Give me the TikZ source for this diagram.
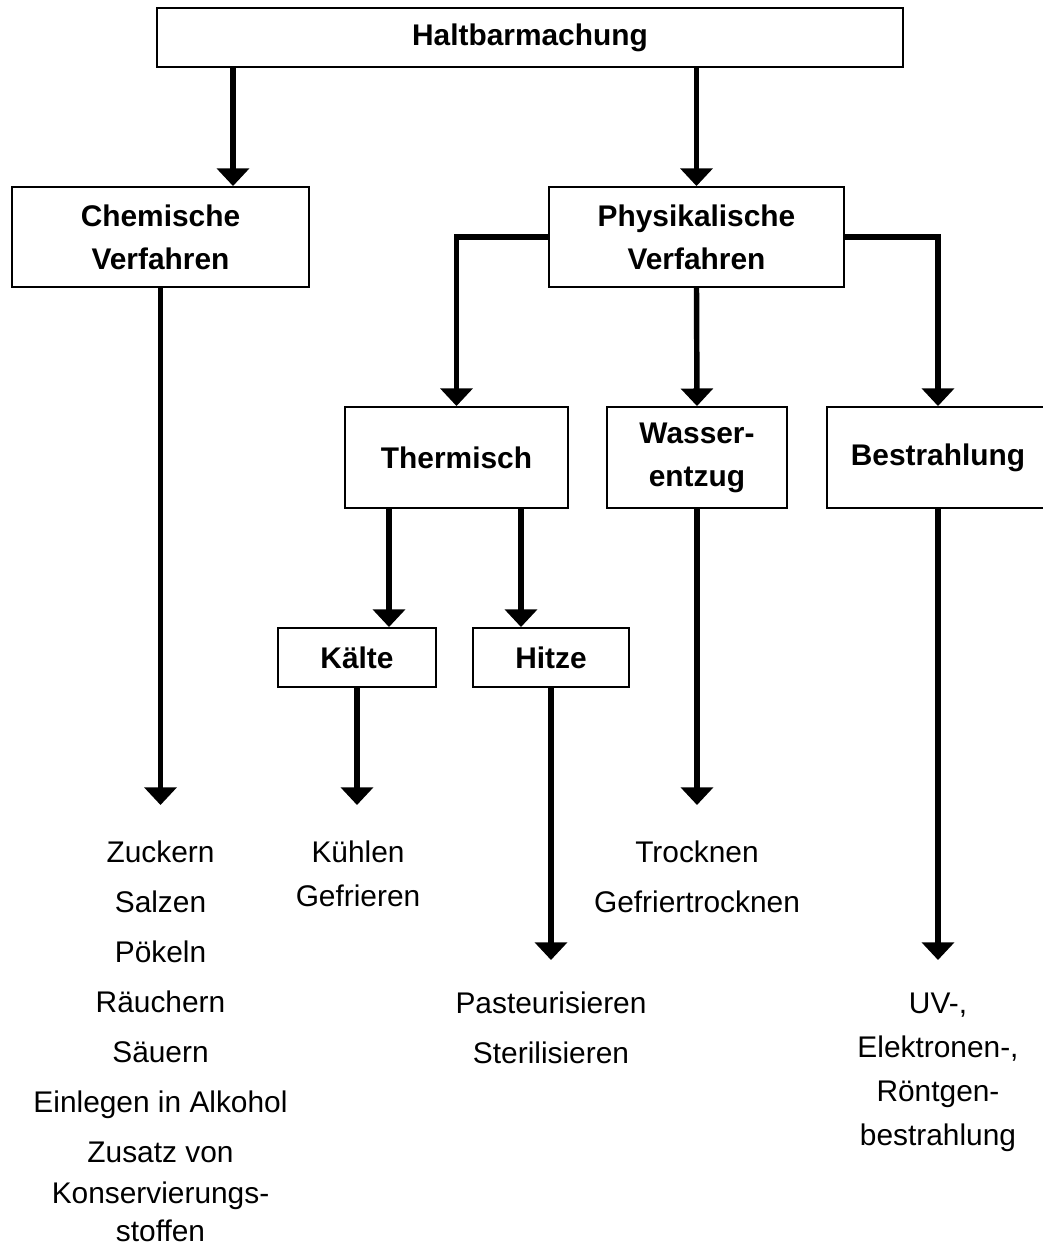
\documentclass[tikz,border=0pt]{standalone}
\usepackage{fontspec}
\setmainfont{Liberation Sans}
\usepackage{tikz}
\usetikzlibrary{arrows.meta,positioning,calc}
\tikzset{every node/.append style={scale=1}}
\tikzset{
  box/.style={draw, line width=1.1pt, inner sep=0pt, align=center, font=\fontsize{17}{24.4}\selectfont\bfseries},
  link/.style={line width=3.1pt, -{Triangle[width=18pt,length=10pt]}},
  item/.style={anchor=base, inner sep=0pt, font=\fontsize{17}{20}\selectfont}
}

\begin{document}
\begin{tikzpicture}[x=0.02cm, y=-0.02cm]
\path[use as bounding box, fill=white] (0,0) rectangle (1043,1245);

%boxes
\node[box, minimum width=14.92cm, minimum height=1.18cm] (halt) at (530,37.5) {Haltbarmachung};
\node[box, minimum width=5.94cm, minimum height=2cm] (chem) at (160.5,237) {Chemische\\Verfahren};
\node[box, minimum width=5.9cm, minimum height=2cm] (phys) at (696.5,237) {Physikalische\\Verfahren};
\node[box, minimum width=4.46cm, minimum height=2.02cm] (therm) at (456.5,457.5) {Thermisch};
\node[box, minimum width=3.6cm, minimum height=2.02cm] (wasser) at (697,457.5) {Wasser-\\entzug};
\node[box, minimum width=4.44cm, minimum height=2.02cm] (bestr) at (938,457.5) {Bestrahlung};
\node[box, minimum width=3.16cm, minimum height=1.18cm] (kaelte) at (357,657.5) {Kälte};
\node[box, minimum width=3.12cm, minimum height=1.18cm] (hitze) at (551,657.5) {Hitze};

%ends of the lower arrows
\coordinate (chemE) at (160.5,805);
\coordinate (kaelteE) at (357,805);
\coordinate (wasserE) at (697,805);
\coordinate (hitzeE) at (551,960);
\coordinate (bestrE) at (938,960);

%arrows
\draw[link] (halt.south -| 233,0) -- (chem.north -| 233,0);
\draw[link] (halt.south -| phys.north) -- (phys.north);
\draw[link] (phys.west) -| (therm.north);
\draw[link] (phys.south) -- (wasser.north);
\draw[link] (phys.east) -| (bestr.north);
\draw[link] (therm.south -| 389,0) -- (kaelte.north -| 389,0);
\draw[link] (therm.south -| 521,0) -- (hitze.north -| 521,0);
\draw[link] (chem.south) -- (chemE);
\draw[link] (kaelte.south) -- (kaelteE);
\draw[link] (wasser.south) -- (wasserE);
\draw[link] (hitze.south) -- (hitzeE);
\draw[link] (bestr.south) -- (bestrE);

%Chemische
\foreach \t [count=\i] in {Zuckern,Salzen,Pökeln,Räuchern,Säuern,Einlegen in Alkohol,Zusatz von}
  \node[item] (chem\i) at (160.5,812+50*\i) {\t};
\node[item] (chem8) at (160.5,1203) {Konservierungs-};
\node[item] (chem9) at (160.5,1241) {stoffen};

%Kaelte
\node[item] (kuehl) at (358,862) {Kühlen};
\node[item] (gefr) at (358,906) {Gefrieren};

%Hitze
\node[item] (past) at (551,1013) {Pasteurisieren};
\node[item] (steril) at (551,1063) {Sterilisieren};

%Wasserentzug
\node[item] (trock) at (697,862) {Trocknen};
\node[item] (gtrock) at (697,912) {Gefriertrocknen};

%Bestrahlung
\node[item] (uv) at (938,1013) {UV-,};
\node[item] (elek) at (938,1057) {Elektronen-,};
\node[item] (roent) at (938,1101) {Röntgen-};
\node[item] (bestr2) at (938,1145) {bestrahlung};
\end{tikzpicture}
\end{document}
